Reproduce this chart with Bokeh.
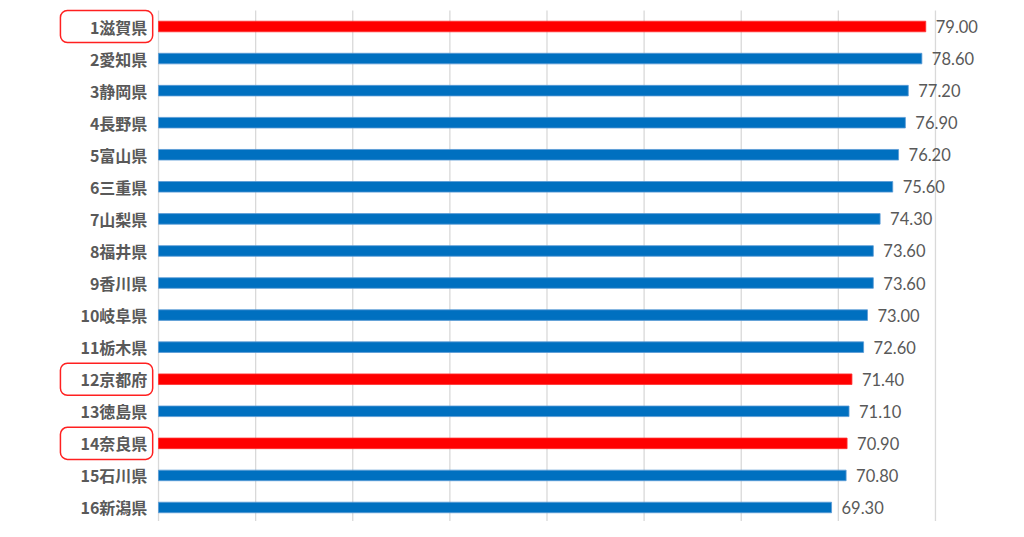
from bokeh.plotting import figure
from bokeh.models import Range1d, ColumnDataSource
from bokeh.core.properties import value
from bokeh.embed import file_html
from bokeh.resources import INLINE

# Data
prefectures = ["滋賀県", "愛知県", "静岡県", "長野県", "富山県", "三重県", "山梨県", "福井県",
               "香川県", "岐阜県", "栃木県", "京都府", "徳島県", "奈良県", "石川県", "新潟県"]
values = [79.00, 78.60, 77.20, 76.90, 76.20, 75.60, 74.30, 73.60,
          73.60, 73.00, 72.60, 71.40, 71.10, 70.90, 70.80, 69.30]
highlighted = ["滋賀県", "京都府", "奈良県"]
grid_ticks = [0, 10, 20, 30, 40, 50, 60, 70, 80]

ranks = list(range(1, len(prefectures) + 1))
labels = [f"{r}{n}" for r, n in zip(ranks, prefectures)]
colors = ["#FF0000" if n in highlighted else "#0070C0" for n in prefectures]
lines = ["#FF3030" if n in highlighted else "#5A9BD5" for n in prefectures]
value_texts = [f"{v:.2f}" for v in values]

src = ColumnDataSource(dict(y=ranks, v=values, label=labels, color=colors,
                            line=lines, vt=value_texts))

hl_ranks = [r for r, n in zip(ranks, prefectures) if n in highlighted]

y_bottom = 16.437
p = figure(width=1008, height=521, output_backend="svg", toolbar_location=None,
           x_range=Range1d(-16.27, 87.52), y_range=Range1d(y_bottom, 0.189),
           min_border=0, outline_line_color=None)
p.xaxis.visible = False
p.yaxis.visible = False
p.xgrid.visible = False
p.ygrid.visible = False
p.background_fill_color = "white"
p.border_fill_color = "white"

# vertical gridlines
p.segment(x0=grid_ticks, x1=grid_ticks, y0=ranks[0] - 0.5, y1=y_bottom,
          line_color="#D9D9D9", line_width=1.3)

p.hbar(y="y", left=0, right="v", height=0.33, fill_color="color",
       line_color="line", line_width=0.8, source=src)

p.text(x="v", y="y", text="vt", x_offset=10, text_align="left",
       text_baseline="middle", text_font=value("Lato"), text_font_size="16.5px",
       text_color="#595959", source=src)

p.text(x=-1.15, y="y", text="label", text_align="right", text_baseline="middle",
       text_font=value("Noto Sans CJK JP"), text_font_style="bold",
       text_font_size="16px", text_color="#595959", source=src)

p.quad(left=-10.1, right=-0.6, top=[r - 0.5 for r in hl_ranks],
       bottom=[r + 0.5 for r in hl_ranks], fill_color=None,
       line_color="#FF2020", line_width=1.5, border_radius=7)

open("out.html", "w").write(file_html(p, INLINE))
